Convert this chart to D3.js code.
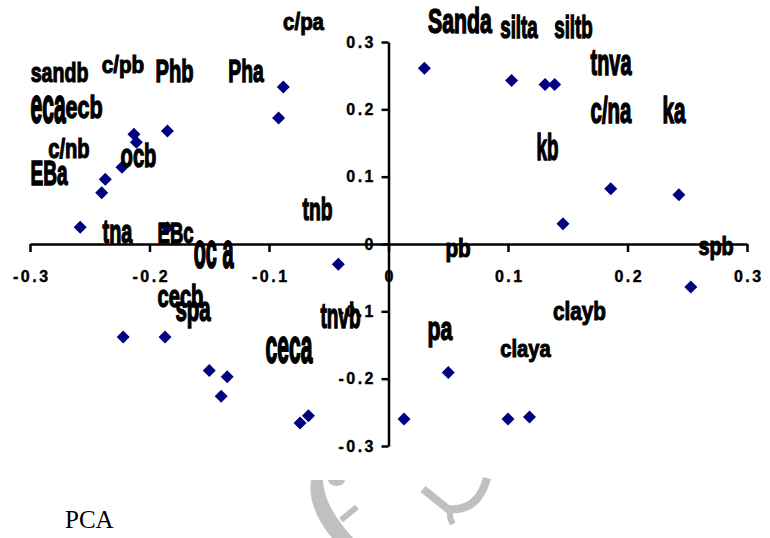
<!DOCTYPE html>
<html>
<head>
<meta charset="utf-8">
<script src="https://cdn.jsdelivr.net/npm/d3@7"></script>
<style>
  body { margin: 0; background: #fff; }
  svg { display: block; }
</style>
</head>
<body>
<div class="board"></div>
<script>
// PCA loadings, first two components
var pcX = [-0.088, -0.092, -0.213, -0.211, -0.185, -0.223, -0.237, -0.240, -0.258, -0.185,
  0.030, 0.103, 0.131, 0.139, 0.186, 0.243, 0.146, -0.042, -0.222, -0.187,
  -0.150, -0.135, -0.140, -0.074, -0.067, 0.253, 0.050, 0.013, 0.100, 0.118];
var pcY = [0.233, 0.187, 0.163, 0.151, 0.168, 0.114, 0.096, 0.076, 0.025, 0.024,
  0.261, 0.243, 0.237, 0.237, 0.082, 0.073, 0.030, -0.030, -0.138, -0.138,
  -0.188, -0.197, -0.226, -0.266, -0.255, -0.064, -0.191, -0.260, -0.260, -0.257];

// data labels (they sit where they were dragged to, in axis units)
var labelNames = ['c/pa', 'sandb', 'c/pb', 'Phb', 'Pha', 'eca', 'ecb', 'c/nb', 'ocb', 'EBa',
  'tnb', 'tna', 'EBc', 'oc a', 'cecb', 'spa', 'tnvb', 'ceca', 'Sanda', 'silta',
  'siltb', 'tnva', 'c/na', 'ka', 'kb', 'pb', 'spb', 'clayb', 'pa', 'claya'];
var labelX = [-0.0711, -0.2753, -0.2222, -0.1791, -0.1192, -0.2849, -0.2548, -0.2674, -0.2092, -0.2841,
  -0.0594, -0.2268, -0.1782, -0.1464, -0.1741, -0.1636, -0.0402, -0.0833, 0.0598, 0.1092,
  0.1548, 0.1862, 0.1862, 0.2389, 0.1331, 0.0582, 0.2741, 0.1598, 0.0431, 0.1146];
var labelY = [0.3175, 0.2404, 0.2537, 0.2404, 0.2404, 0.1795, 0.1869, 0.1276, 0.1142, 0.0875,
  0.0356, 0.0015, 0.0015, -0.0356, -0.0935, -0.1142, -0.1246, -0.1766, 0.3131, 0.3056,
  0.3056, 0.2507, 0.1795, 0.1795, 0.1246, -0.0193, -0.0163, -0.1128, -0.1424, -0.1677];

var ticks = [-0.3, -0.2, -0.1, 0, 0.1, 0.2, 0.3];

// squashed / stretched label glyphs [sx, sy]
var stretch = {
  'c/pa': [0.73, 0.85], 'sandb': [0.7, 1], 'c/pb': [0.74, 0.85], 'Phb': [0.72, 1.1], 'Pha': [0.69, 1.1],
  'eca': [0.75, 1.8], 'ecb': [0.77, 1.15], 'c/nb': [0.72, 1], 'ocb': [0.72, 1.2], 'EBa': [0.68, 1.25],
  'tnb': [0.69, 1.15], 'tna': [0.71, 1.2], 'EBc': [0.66, 1.05], 'oc a': [0.71, 1.8], 'cecb': [0.72, 1.1],
  'spa': [0.73, 1.22], 'tnvb': [0.68, 1.25], 'ceca': [0.75, 1.7], 'Sanda': [0.76, 1.25], 'silta': [0.67, 1.15],
  'siltb': [0.67, 1.15], 'tnva': [0.71, 1.35], 'c/na': [0.73, 1.3], 'ka': [0.74, 1.3], 'kb': [0.67, 1.35],
  'pb': [0.74, 0.95], 'spb': [0.71, 0.92], 'clayb': [0.74, 0.92], 'pa': [0.76, 1.18], 'claya': [0.72, 0.88]
};

var svg = d3.select('.board')
  .append('svg')
  .attr('width', 770)
  .attr('height', 538)
  .style('background-color', '#fff');

var x = d3.scaleLinear().domain([-0.3, 0.3]).range([30, 747]);
var y = d3.scaleLinear().domain([-0.3, 0.3]).range([446, 42]);

var fmt = function(d) { return d === 0 ? '0' : d.toFixed(1); };

// watermark
var wm = svg.append('g').attr('fill', '#c0c0c0').attr('stroke', '#c0c0c0');
wm.append('path').attr('stroke', 'none')
  .attr('d', 'M311,480 C308,500 317,520 332,538 L353,538 C338,521 324,502 323,480 Z');
wm.append('path').attr('stroke', 'none')
  .attr('d', 'M328,480 A8.5,6 0 0 0 345,480 Z');
wm.append('line').attr('x1', 341).attr('y1', 520).attr('x2', 357).attr('y2', 507)
  .attr('stroke-width', 6);
wm.append('path').attr('fill', 'none').attr('stroke-width', 8)
  .attr('d', 'M423,489 L448,509 Q478,512 487,478');
wm.append('path').attr('fill', 'none').attr('stroke-width', 6)
  .attr('d', 'M451,507 Q448,516 453,524');

var xAxis = d3.axisBottom(x).tickValues(ticks).tickFormat(fmt)
  .tickSize(8).tickSizeOuter(0).tickPadding(19);
var yAxis = d3.axisLeft(y).tickValues(ticks).tickFormat(fmt)
  .tickSize(7).tickSizeOuter(0).tickPadding(5.5);

var gx = svg.append('g')
  .attr('transform', 'translate(0,' + y(0) + ')')
  .call(xAxis);
var gy = svg.append('g')
  .attr('transform', 'translate(' + x(0) + ',0)')
  .call(yAxis);

[gx, gy].forEach(function(g) {
  g.selectAll('path, line').attr('stroke', '#000').attr('stroke-width', 2.5);
  g.selectAll('text')
    .attr('fill', '#000')
    .attr('stroke', '#000')
    .attr('stroke-width', 0.4)
    .style('font-family', '"Liberation Sans", Arial, sans-serif')
    .style('font-weight', 'bold')
    .style('font-size', '16px')
    .style('letter-spacing', '2.5px');
});
gx.selectAll('text').attr('dx', '1.25px');
gx.select('.domain').raise();
gy.raise();

// points
svg.append('g').selectAll('path')
  .data(pcX)
  .enter()
  .append('path')
  .attr('transform', function(d, i) { return 'translate(' + x(d) + ',' + y(pcY[i]) + ')'; })
  .attr('d', 'M0,-6.5L6.5,0L0,6.5L-6.5,0Z')
  .style('fill', '#000080');

// labels
svg.append('g').selectAll('text')
  .data(labelNames)
  .enter()
  .append('text')
  .attr('transform', function(d, i) {
    var s = stretch[d] || [0.7, 1];
    return 'translate(' + x(labelX[i]) + ',' + y(labelY[i]) + ') scale(' + s[0] + ',' + s[1] + ')';
  })
  .attr('text-anchor', 'middle')
  .style('font-family', '"Liberation Sans", Arial, sans-serif')
  .style('font-weight', 'bold')
  .style('font-size', '28px')
  .style('fill', '#000')
  .style('stroke', '#000')
  .style('stroke-width', '1.2px')
  .text(function(d) { return d; });

svg.append('text')
  .attr('x', 65)
  .attr('y', 528)
  .style('font-family', '"Liberation Serif", "Times New Roman", serif')
  .style('font-size', '25px')
  .style('fill', '#000')
  .text('PCA');
</script>
</body>
</html>
